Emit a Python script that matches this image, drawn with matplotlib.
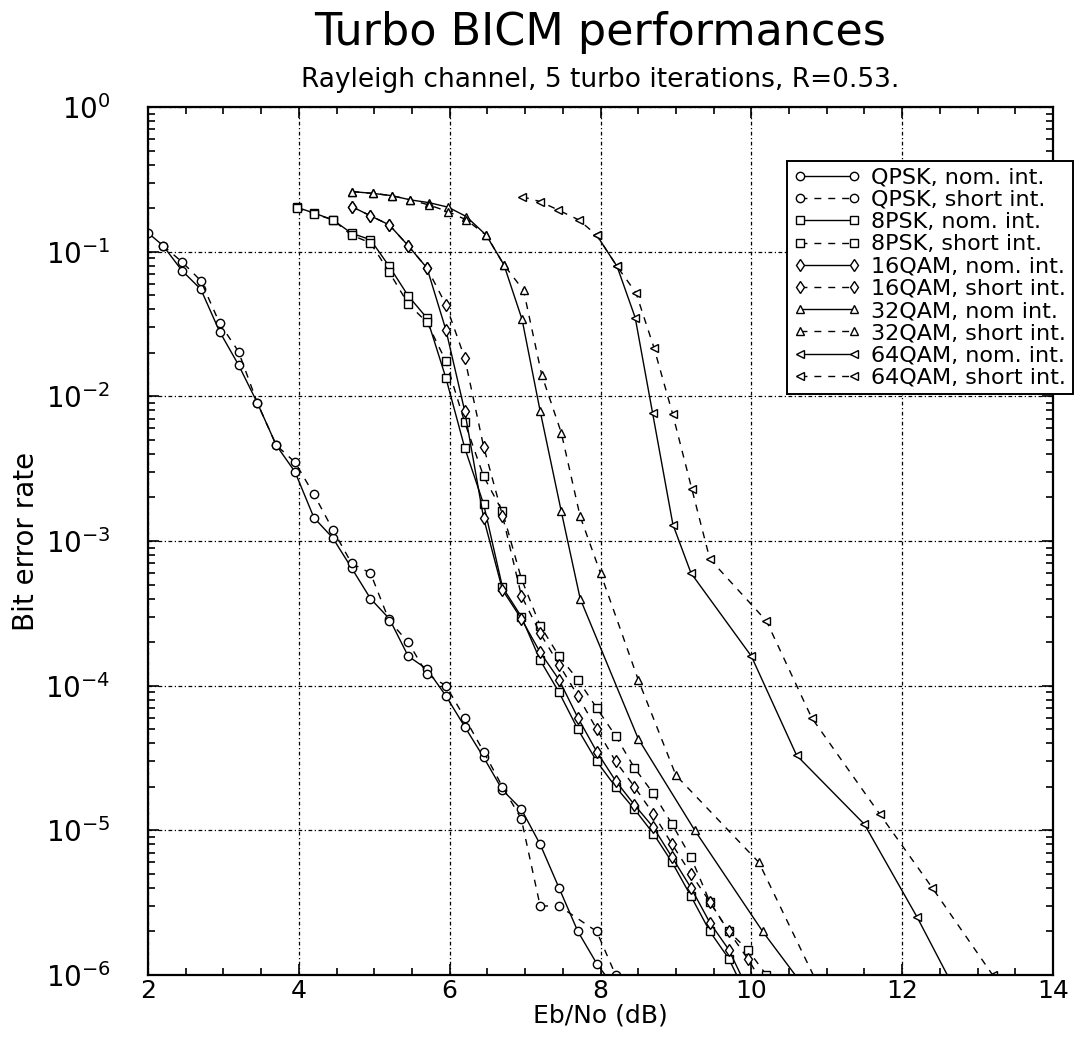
import matplotlib
matplotlib.use("Agg")
import matplotlib.pyplot as plt
from matplotlib.ticker import MultipleLocator, FixedLocator, LogLocator, NullFormatter, LogFormatterSciNotation

plt.rcParams['font.family'] = ['DejaVu Sans']
plt.rcParams['mathtext.fontset'] = 'dejavusans'

# ---------------- data (Eb/No in dB, BER) ----------------
qpsk_nom_x = [2.0, 2.2, 2.45, 2.7, 2.95, 3.2, 3.45, 3.7, 3.95, 4.2, 4.45, 4.7, 4.95, 5.2, 5.45,
              5.7, 5.95, 6.2, 6.45, 6.7, 6.95, 7.2, 7.45, 7.7, 7.95, 8.2]
qpsk_nom_y = [0.135, 0.11, 0.074, 0.055, 0.028, 0.0165, 0.009, 0.0046, 0.003, 0.00145, 0.00105,
              6.5e-4, 4e-4, 2.9e-4, 1.6e-4, 1.3e-4, 8.5e-5, 5.2e-5, 3.2e-5, 1.9e-5, 1.4e-5,
              8e-6, 4e-6, 2e-6, 1.2e-6, 8e-7]

qpsk_short_x = [2.2, 2.45, 2.7, 2.95, 3.2, 3.45, 3.7, 3.95, 4.2, 4.45, 4.7, 4.95, 5.2, 5.45,
                5.7, 5.95, 6.2, 6.45, 6.7, 6.95, 7.2, 7.45, 7.95, 8.2]
qpsk_short_y = [0.11, 0.085, 0.063, 0.032, 0.0204, 0.009, 0.0046, 0.0035, 0.0021, 0.0012,
                7e-4, 6e-4, 2.8e-4, 2e-4, 1.2e-4, 1e-4, 6e-5, 3.5e-5, 2e-5, 1.2e-5,
                3e-6, 3e-6, 2e-6, 1e-6]

psk8_nom_x = [3.97, 4.2, 4.45, 4.7, 4.95, 5.2, 5.45, 5.7, 5.95, 6.2, 6.45, 6.7, 6.95, 7.2,
              7.45, 7.7, 7.95, 8.2, 8.45, 8.7, 8.95, 9.2, 9.45, 9.7, 9.95]
psk8_nom_y = [0.203, 0.185, 0.166, 0.134, 0.121, 0.079, 0.0495, 0.0347, 0.0134, 0.0044,
              0.0018, 4.8e-4, 3e-4, 1.5e-4, 9e-5, 5e-5, 3e-5, 2e-5, 1.4e-5, 9.5e-6, 6e-6,
              3.5e-6, 2e-6, 1.3e-6, 7e-7]

psk8_short_x = [3.97, 4.2, 4.45, 4.7, 4.95, 5.2, 5.45, 5.7, 5.95, 6.2, 6.45, 6.7, 6.95, 7.2,
                7.45, 7.7, 7.95, 8.2, 8.45, 8.7, 8.95, 9.2, 9.45, 9.7, 9.95, 10.2]
psk8_short_y = [0.2, 0.183, 0.166, 0.13, 0.115, 0.072, 0.0436, 0.0324, 0.0175, 0.0066,
                0.0028, 0.0016, 5.5e-4, 2.6e-4, 1.6e-4, 1.1e-4, 7e-5, 4.5e-5, 2.7e-5,
                1.8e-5, 1.1e-5, 6.5e-6, 3.2e-6, 2e-6, 1.5e-6, 1e-6]

qam16_nom_x = [4.7, 4.95, 5.2, 5.45, 5.7, 5.95, 6.2, 6.45, 6.7, 6.95, 7.2, 7.45, 7.7, 7.95,
               8.2, 8.45, 8.7, 8.95, 9.2, 9.45, 9.7, 9.95]
qam16_nom_y = [0.205, 0.177, 0.153, 0.11, 0.077, 0.0288, 0.0079, 0.00144, 4.6e-4, 2.9e-4,
               1.7e-4, 1.1e-4, 6e-5, 3.5e-5, 2.2e-5, 1.5e-5, 1.05e-5, 6.5e-6, 4e-6, 2.3e-6,
               1.5e-6, 8e-7]

qam16_short_x = [4.7, 4.95, 5.2, 5.45, 5.7, 5.95, 6.2, 6.45, 6.7, 6.95, 7.2, 7.45, 7.7, 7.95,
                 8.2, 8.45, 8.7, 8.95, 9.2, 9.45, 9.7, 9.95, 10.2]
qam16_short_y = [0.205, 0.177, 0.153, 0.11, 0.077, 0.043, 0.0184, 0.0045, 0.0015, 4.2e-4,
                 2.3e-4, 1.4e-4, 8.5e-5, 5e-5, 3e-5, 2e-5, 1.3e-5, 8e-6, 5e-6, 3.2e-6,
                 2e-6, 1.3e-6, 8e-7]

qam32_nom_x = [4.71, 4.98, 5.23, 5.48, 5.73, 5.98, 6.22, 6.485, 6.72, 6.96, 7.2, 7.48, 7.73,
               8.5, 9.25, 10.15, 10.9]
qam32_nom_y = [0.26, 0.253, 0.244, 0.228, 0.218, 0.203, 0.175, 0.13, 0.081, 0.034, 0.0079,
               0.0016, 4e-4, 4.3e-5, 1e-5, 2e-6, 6e-7]

qam32_short_x = [4.71, 4.98, 5.23, 5.48, 5.73, 5.98, 6.22, 6.485, 6.72, 6.98, 7.22, 7.48,
                 7.73, 8.0, 8.5, 9.0, 10.1, 11.1]
qam32_short_y = [0.26, 0.253, 0.244, 0.228, 0.21, 0.189, 0.166, 0.13, 0.081, 0.054, 0.0141,
                 0.0056, 0.00148, 6e-4, 1.1e-4, 2.4e-5, 6e-6, 5e-7]

qam64_nom_x = [7.95, 8.22, 8.46, 8.69, 8.96, 9.2, 10.0, 10.6, 11.5, 12.2, 12.9]
qam64_nom_y = [0.13, 0.079, 0.035, 0.0077, 0.0013, 6e-4, 1.6e-4, 3.3e-5, 1.1e-5, 2.5e-6, 5e-7]

qam64_short_x = [6.96, 7.2, 7.44, 7.71, 7.95, 8.22, 8.47, 8.71, 8.955, 9.21, 9.45, 10.2,
                 10.8, 11.7, 12.4, 13.2]
qam64_short_y = [0.24, 0.222, 0.194, 0.166, 0.13, 0.079, 0.052, 0.0216, 0.0076, 0.0023,
                 7.5e-4, 2.8e-4, 6e-5, 1.3e-5, 4e-6, 1e-6]

labels = ["QPSK, nom. int.", "QPSK, short int.", "8PSK, nom. int.", "8PSK, short int.",
          "16QAM, nom. int.", "16QAM, short int.", "32QAM, nom int.", "32QAM, short int.",
          "64QAM, nom. int.", "64QAM, short int."]

x_ticks = [2, 4, 6, 8, 10, 12, 14]
y_ticks = [1e-6, 1e-5, 1e-4, 1e-3, 1e-2, 1e-1, 1]

series = [(qpsk_nom_x, qpsk_nom_y), (qpsk_short_x, qpsk_short_y),
          (psk8_nom_x, psk8_nom_y), (psk8_short_x, psk8_short_y),
          (qam16_nom_x, qam16_nom_y), (qam16_short_x, qam16_short_y),
          (qam32_nom_x, qam32_nom_y), (qam32_short_x, qam32_short_y),
          (qam64_nom_x, qam64_nom_y), (qam64_short_x, qam64_short_y)]
markers = ['o', 'o', 's', 's', 'd', 'd', '^', '^', '<', '<']
styles = ['-', '--'] * 5

# ---------------- figure ----------------
W, H = 1077, 1042
fig = plt.figure(figsize=(W / 100, H / 100), dpi=100)
L, R, T, B = 148, 1053, 107, 975
ax = fig.add_axes([L / W, 1 - B / H, (R - L) / W, (B - T) / H])

for (x, y), m, ls, lab in zip(series, markers, styles, labels):
    kw = dict(color='black', linewidth=1.0, marker=m, markersize=6,
              markerfacecolor='white', markeredgecolor='black', markeredgewidth=1.0,
              label=lab)
    if ls == '--':
        kw['dashes'] = (5, 5)
    ax.plot(x, y, linestyle=ls, **kw)

ax.set_yscale('log')
ax.set_xlim(2, 14)
ax.set_ylim(1e-6, 1)
ax.xaxis.set_major_locator(FixedLocator(x_ticks))
ax.xaxis.set_minor_locator(MultipleLocator(0.5))
ax.yaxis.set_major_locator(FixedLocator(y_ticks))
ax.yaxis.set_major_formatter(LogFormatterSciNotation())
ax.yaxis.set_minor_locator(LogLocator(base=10, subs=range(2, 10), numticks=20))
ax.yaxis.set_minor_formatter(NullFormatter())

ax.grid(True, which='major', color='black', linestyle=(0, (3, 2, 1, 2)), linewidth=0.9)
ax.tick_params(which='both', direction='in', top=True, right=True, width=1.2)
ax.tick_params(which='major', length=8)
ax.tick_params(which='minor', length=5)
ax.tick_params(axis='x', which='major', labelsize=18, pad=3)
ax.tick_params(axis='y', which='major', labelsize=20, pad=27)
for s in ax.spines.values():
    s.set_linewidth(1.6)

ax.set_xlabel('Eb/No (dB)', fontsize=18, labelpad=0)
ax.set_ylabel('Bit error rate', fontsize=20,
              family=['Liberation Sans Narrow', 'DejaVu Sans'])
ax.yaxis.set_label_coords((40 - L) / (R - L), 0.5)

cx = (L + R) / 2 / W
fig.text(cx, 1 - 33 / H, 'Turbo BICM performances', ha='center', va='center', fontsize=32)
fig.text(cx, 1 - 80 / H, 'Rayleigh channel, 5 turbo iterations, R=0.53.', ha='center',
         va='center', fontsize=19)

leg = ax.legend(loc='upper right', bbox_to_anchor=(1073 / W, 1 - 161 / H),
                bbox_transform=fig.transFigure, fontsize=16, numpoints=2,
                handlelength=3.0, labelspacing=0.1, borderpad=0.3, handletextpad=0.5,
                borderaxespad=0, fancybox=False, framealpha=1, edgecolor='black')
leg.get_frame().set_linewidth(1.4)
leg.set_zorder(10)

fig.savefig('out.png', dpi=100)
